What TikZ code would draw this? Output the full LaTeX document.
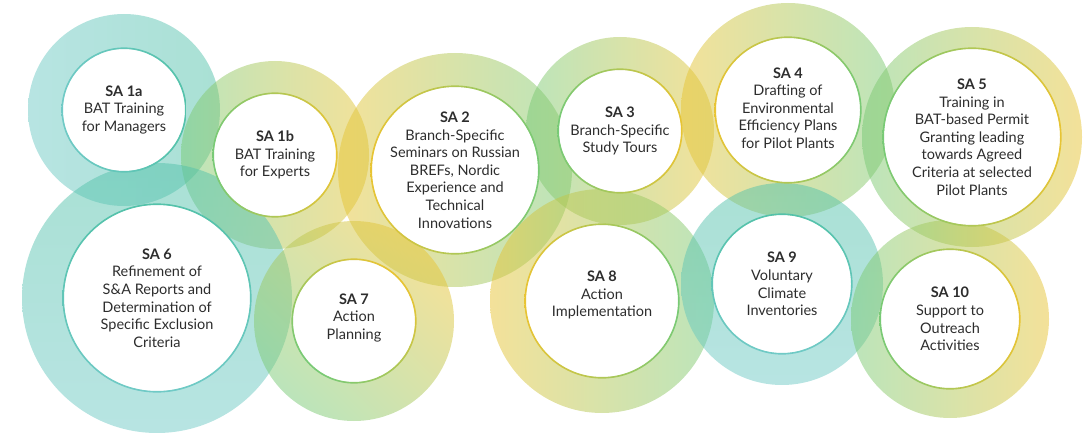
\documentclass[tikz,border=0pt]{standalone}
\usepackage{fontspec}
\setmainfont{Lato}
\definecolor{sateal}{RGB}{84,194,170}
\definecolor{sablue}{RGB}{112,202,198}
\definecolor{sagreen}{RGB}{120,202,118}
\definecolor{sayellow}{RGB}{232,196,52}
\definecolor{satext}{RGB}{45,45,45}
\tikzset{%
  ring/.style={even odd rule,fill opacity=0.5},
  rim/.style={even odd rule},
  sabox/.style={circle,inner sep=0pt,align=center,text=satext,
    font=\fontsize{14.5}{17.6}\selectfont}}
% name / x / y / inner r / outer r / top colour / bottom colour / angle
\def\salist{1a/124/110/61/96/sablue/sateal/90,
  1b/275/155/61/94/sagreen/sayellow/90,
  2/455/170/83/117/sayellow/sagreen/90,
  3/620/131/61/94/sagreen/sayellow/90,
  4/788/110/72/107/sayellow/sagreen/90,
  5/972/137/88/110/sagreen/sayellow/90,
  6/157/298/93/135/sateal/sablue/0,
  7/354/321/61/100/sayellow/sagreen/-45,
  8/602/301/76/112/sayellow/sagreen/90,
  9/782/284/69/101/sateal/sablue/0,
  10/950/319/69/99/sagreen/sayellow/90}

\begin{document}
\begin{tikzpicture}[x=1pt,y=-1pt]
  \useasboundingbox (0,0) rectangle (1086,433);
  % coloured rings
  \foreach \n/\cx/\cy/\ri/\ro/\ca/\cb/\ang in \salist {
    \shade[ring,top color=\ca,bottom color=\cb,shading angle=\ang]
      (\cx,\cy) circle (\ro pt) (\cx,\cy) circle (\ri pt);}
  % white discs with thin rim
  \foreach \n/\cx/\cy/\ri/\ro/\ca/\cb/\ang in \salist {
    \fill[white] (\cx,\cy) circle (\ri pt);
    \shade[rim,top color=\ca,bottom color=\cb,shading angle=\ang]
      (\cx,\cy) circle (\ri pt+1.6pt) (\cx,\cy) circle (\ri pt);}
  \node[sabox] (sa1a) at (124,110) {\textbf{SA 1a}\\BAT Training\\for Managers};
  \node[sabox] (sa1b) at (275,155) {\textbf{SA 1b}\\BAT Training\\for Experts};
  \node[sabox] (sa2) at (455,170) {\textbf{SA 2}\\Branch-Specific\\Seminars on Russian\\BREFs, Nordic\\Experience and\\Technical\\Innovations};
  \node[sabox] (sa3) at (620,131) {\textbf{SA 3}\\Branch-Specific\\Study Tours};
  \node[sabox] (sa4) at (788,108) {\textbf{SA 4}\\Drafting of\\Environmental\\Efficiency Plans\\for Pilot Plants};
  \node[sabox] (sa5) at (972,137) {\textbf{SA 5}\\Training in\\BAT-based Permit\\Granting leading\\towards Agreed\\Criteria at selected\\Pilot Plants};
  \node[sabox] (sa6) at (157,298) {\textbf{SA 6}\\Refinement of\\S\&A Reports and\\Determination of\\Specific Exclusion\\Criteria};
  \node[sabox] (sa7) at (354,318) {\textbf{SA 7}\\Action\\Planning};
  \node[sabox] (sa8) at (602,295) {\textbf{SA 8}\\Action\\Implementation};
  \node[sabox] (sa9) at (782,284) {\textbf{SA 9}\\Voluntary\\Climate\\Inventories};
  \node[sabox] (sa10) at (950,319) {\textbf{SA 10}\\Support to\\Outreach\\Activities};
\end{tikzpicture}
\end{document}
